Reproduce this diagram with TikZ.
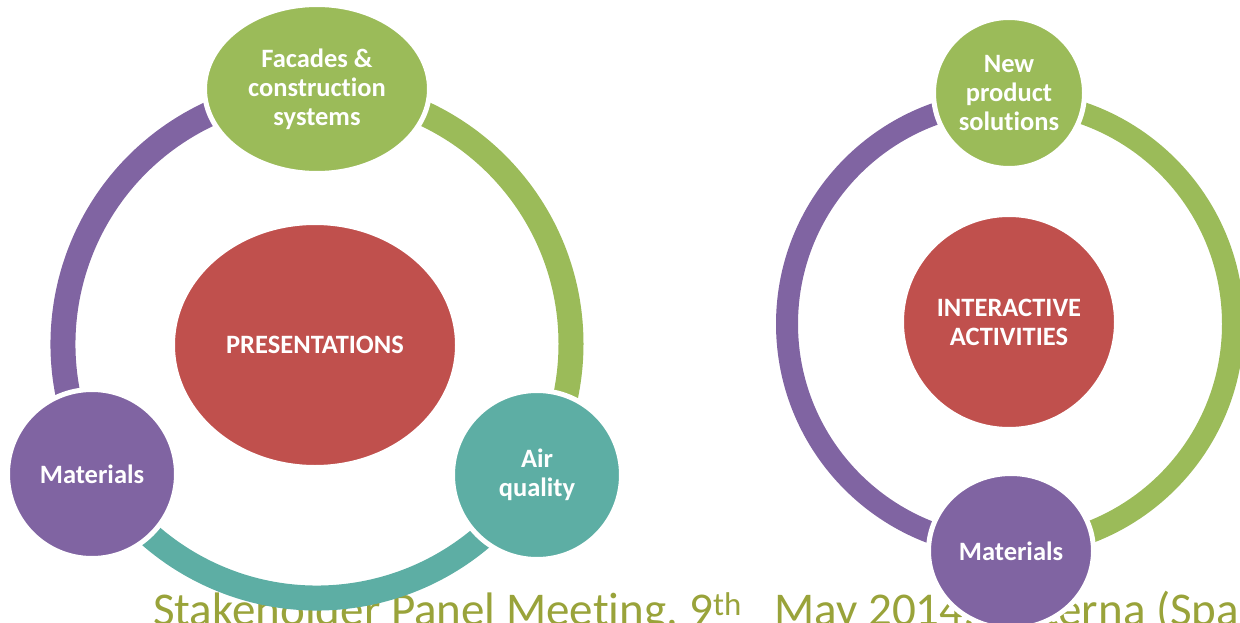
\documentclass[tikz,border=0pt]{standalone}
\usepackage{fontspec}
\setmainfont{Carlito}[Ligatures={NoCommon}]
\usetikzlibrary{shapes.geometric}
\definecolor{cpurple}{RGB}{128,100,162}
\definecolor{cgreen}{RGB}{155,187,89}
\definecolor{cred}{RGB}{192,80,77}
\definecolor{cteal}{RGB}{93,174,164}
\definecolor{cfoot}{RGB}{153,163,58}
\begin{document}
\begin{tikzpicture}[x=1pt,y=-1pt,
  ringL/.style={line width=25pt},
  ringR/.style={line width=22pt},
  txt/.style={inner sep=0pt, text=white, font=\bfseries\fontsize{26.5}{29}\selectfont, align=center},
  bubble/.style={txt, draw=white, line width=5pt},
  circ/.style={bubble, circle},
  ell/.style={bubble, ellipse},
  foot/.style={text=cfoot, font=\fontsize{47}{52}\selectfont, anchor=base west, inner sep=0pt}]
\useasboundingbox (0,0) rectangle (1240,623);

% footer text (behind everything)
\node[foot] (footer) at (153,625) {Stakeholder Panel Meeting, 9\textsuperscript{th}\hspace{22pt} May 2014,\hspace{12pt} Paterna (Spain)};

% ring centres
\coordinate (cL) at (317,344);
\coordinate (cR) at (1010,324);

% left ring
\draw[ringL, cpurple] ([shift={(150:254)}]cL) arc[start angle=150, end angle=270, radius=254];
\draw[ringL, cgreen]  ([shift={(-90:254)}]cL) arc[start angle=-90, end angle=31, radius=254];
\draw[ringL, cteal]   ([shift={(31:254)}]cL) arc[start angle=31, end angle=150, radius=254];

% right ring
\draw[ringR, cpurple] ([shift={(90:223)}]cR) arc[start angle=90, end angle=270, radius=223];
\draw[ringR, cgreen]  ([shift={(-90:223)}]cR) arc[start angle=-90, end angle=90, radius=223];

% left nodes
\node[ell, fill=cred, minimum width=285pt, minimum height=245pt] (pres) at (315,345) {PRESENTATIONS};
\node[ell, fill=cgreen, minimum width=225pt, minimum height=169pt] (facades) at (317,89) {Facades \&\\construction\\systems};
\node[circ, fill=cpurple, minimum size=169pt] (matL) at (92,474) {Materials};
\node[circ, fill=cteal, minimum size=169pt] (air) at (537,475) {Air\\quality};

% right nodes
\node[circ, fill=cred, minimum size=215pt] (inter) at (1009,322) {INTERACTIVE\\ACTIVITIES};
\node[circ, fill=cgreen, minimum size=151pt] (newp) at (1009,93) {New\\product\\solutions};
\node[ell, fill=cpurple, minimum width=165pt, minimum height=155pt] (matR) at (1011,551) {Materials};
\end{tikzpicture}
\end{document}
